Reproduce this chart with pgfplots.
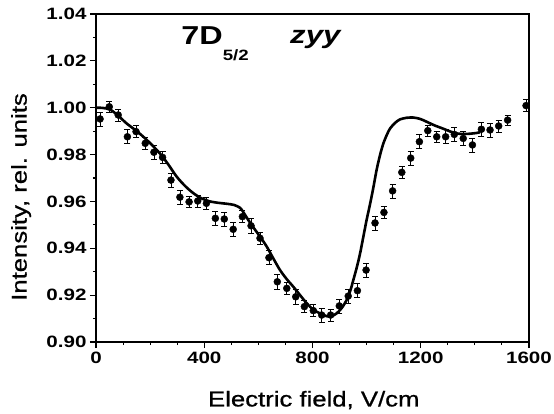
\documentclass[border=0pt]{standalone}
\usepackage{pgfplots}
\pgfplotsset{compat=1.18}
\usepackage{pgfplotstable}
\usepackage{fontspec}
\setmainfont[FakeStretch=1.25]{Liberation Sans}
\newfontfamily\labelfont[FakeStretch=1.2, FakeBold=0.8]{Liberation Sans}

\pgfplotstableread{
x y e
15 0.9952 0.003
49 1.0004 0.0025
82 0.9969 0.0025
116 0.9876 0.003
148 0.9898 0.0025
182 0.9848 0.0025
214 0.9810 0.003
246 0.9788 0.0025
277 0.9691 0.003
310 0.9618 0.003
344 0.9598 0.0025
376 0.9602 0.0025
408 0.9592 0.0025
441 0.9528 0.003
474 0.9525 0.003
507 0.9481 0.003
541 0.9535 0.0025
573 0.9496 0.003
606 0.9443 0.0025
639 0.9360 0.003
670 0.9257 0.003
705 0.9229 0.0025
738 0.9193 0.003
770 0.9151 0.0025
803 0.9134 0.0025
834 0.9115 0.003
867 0.9115 0.0025
899 0.9154 0.003
932 0.9196 0.003
966 0.9219 0.003
998 0.9307 0.003
1031 0.9508 0.003
1064 0.9553 0.0025
1096 0.9645 0.003
1130 0.9724 0.0025
1163 0.9785 0.003
1195 0.9855 0.003
1226 0.9902 0.0025
1259 0.9876 0.0025
1292 0.9876 0.003
1324 0.9886 0.003
1357 0.9869 0.003
1391 0.9841 0.003
1424 0.9908 0.003
1456 0.9905 0.003
1488 0.9922 0.0025
1521 0.9947 0.002
1589 1.0009 0.0025
}\datatable

\pgfplotstableread{
x y
0 1.0000
25 0.9999
52 0.9992
80 0.9968
113 0.9933
145 0.9905
175 0.9876
205 0.9843
236 0.9805
267 0.9758
298 0.9706
330 0.9665
360 0.9635
390 0.9613
421 0.9600
452 0.9594
483 0.9590
510 0.9585
532 0.9573
544 0.9555
562 0.9522
581 0.9490
606 0.9450
631 0.9407
655 0.9357
680 0.9307
705 0.9268
729 0.9236
754 0.9200
779 0.9165
803 0.9138
828 0.9122
853 0.9110
870 0.9110
889 0.9122
908 0.9145
926 0.9179
940 0.9220
951 0.9265
964 0.9320
976 0.9379
988 0.9450
1000 0.9521
1012 0.9585
1025 0.9660
1037 0.9735
1050 0.9800
1062 0.9848
1075 0.9885
1087 0.9912
1105 0.9935
1123 0.9950
1148 0.9957
1173 0.9958
1198 0.9952
1222 0.9940
1250 0.9925
1284 0.9910
1310 0.9898
1333 0.9890
1360 0.9888
1382 0.9889
1405 0.9892
1419 0.9895
}\fittable

\begin{document}
\begin{tikzpicture}
\useasboundingbox (-96bp,-72bp) rectangle (458bp,342bp);
\begin{axis}[
  at={(0,0)}, anchor=south west,
  scale only axis,
  width=433bp, height=328bp,
  xmin=0, xmax=1600, ymin=0.90, ymax=1.04,
  xtick={0,400,800,1200,1600},
  ytick={0.90,0.92,0.94,0.96,0.98,1.00,1.02,1.04},
  minor x tick num=3,
  minor y tick num=1,
  tick align=outside,
  xtick pos=bottom, ytick pos=left,
  major tick length=6bp,
  minor tick length=3bp,
  axis line style={line width=1.2bp},
  every tick/.style={black, line width=1.1bp},
  yticklabel style={/pgf/number format/fixed, /pgf/number format/precision=2, /pgf/number format/fixed zerofill},
  scaled y ticks=false,
  /pgf/number format/assume math mode=true,
  /pgf/number format/1000 sep={},
  ticklabel style={font=\bfseries\fontsize{16.5}{16.5}\selectfont},
  xticklabel style={yshift=-1bp},
  xlabel={Electric field, V/cm},
  ylabel={Intensity, rel. units},
  label style={font=\labelfont\fontsize{21.5}{21.5}\selectfont},
  xlabel style={at={(axis description cs:0.503,-0.177)}, anchor=center},
  ylabel style={at={(axis description cs:-0.173,0.442)}, anchor=center},
  clip=false,
]
\addplot[black, line width=2.6bp, smooth] table[x=x,y=y] {\fittable};
\addplot[only marks, mark=*, mark size=3.5bp, black,
  error bars/.cd, y dir=both, y explicit,
  error bar style={line width=0.6bp, black},
  error mark options={rotate=90, mark size=3bp, line width=0.6bp, black}]
  table[x=x,y=y,y error=e] {\datatable};
\node[anchor=base west, inner sep=0pt, font=\bfseries\fontsize{26}{26}\selectfont] at (axis cs:315,1.0268) {7D\raisebox{-16bp}{\fontsize{15}{15}\selectfont 5/2}};
\node[anchor=base west, inner sep=0pt, font=\bfseries\itshape\fontsize{25}{25}\selectfont] at (axis cs:717,1.0272) {zyy};
\end{axis}
\end{tikzpicture}
\end{document}
